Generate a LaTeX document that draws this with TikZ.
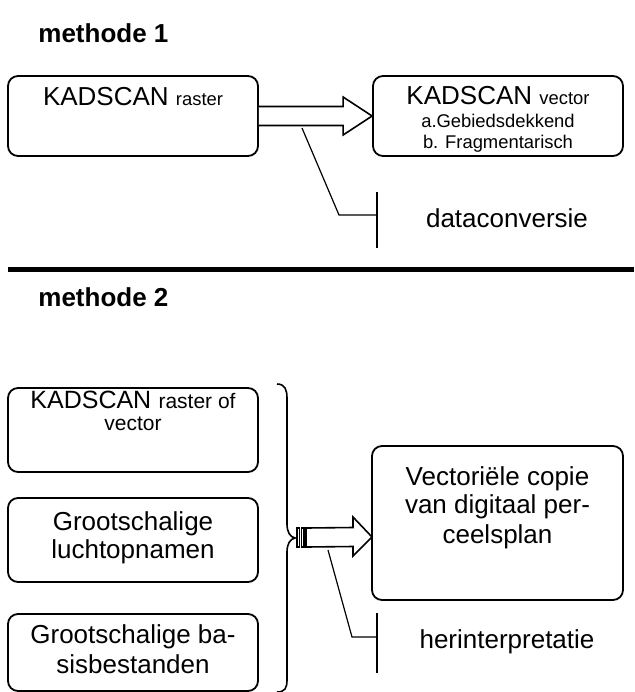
\documentclass[tikz,border=0pt]{standalone}
\usepackage{fontspec}
\setmainfont{Liberation Sans}
\usetikzlibrary{calc}
\newcommand{\groot}{\fontsize{13}{15}\selectfont}
\newcommand{\middel}{\fontsize{10.5}{12}\selectfont}
\newcommand{\klein}{\fontsize{9.2}{11}\selectfont}
\tikzset{
  vak/.style={draw,rounded corners=5pt,line width=0.9pt,inner sep=0pt,minimum width=125pt},
  regel/.style={anchor=base,inner sep=0pt,font=\groot},
  kop/.style={anchor=base west,inner sep=0pt,font=\groot\bfseries},
  pijl/.style={draw,line width=0.8pt,fill=white,line join=miter},
  lijn/.style={draw,line width=0.6pt}
}
\begin{document}
\begin{tikzpicture}[x=0.5pt,y=-0.5pt]
  \useasboundingbox (0,0) rectangle (634,692);
  % methode 1
  \node[kop] (kop1) at (38,42) {methode 1};
  \node[vak,minimum height=40pt] (r1) at (133,116) {};
  \node[vak,minimum height=40pt] (r2) at (498,116) {};
  \node[regel] (r1a) at (133,105) {KADSCAN {\klein raster}};
  \node[regel] (r2a) at (498,104) {KADSCAN {\klein vector}};
  \node[regel,font=\klein] (r2b) at (498,127) {a.Gebiedsdekkend};
  \node[regel,font=\klein] (r2c) at (498,148) {b. Fragmentarisch};
  \draw[pijl] ($(r1.east)+(0,-9.5)$) -- ($(r2.west)+(-29,-9.5)$) -- ($(r2.west)+(-29,-19)$)
    -- (r2.west) -- ($(r2.west)+(-29,19)$) -- ($(r2.west)+(-29,9.5)$) -- ($(r1.east)+(0,9.5)$);
  \coordinate (k1) at (377,215);
  \coordinate (s1) at (302,128);
  \draw[lijn] (s1) -- (339,215) -- (k1);
  \draw[lijn] ($(k1)+(0,-23)$) -- ($(k1)+(0,33)$);
  \node[regel] (dc) at (507,227) {dataconversie};
  % scheidingslijn
  \draw[line width=2.5pt] (8,269) -- (634,269);
  % methode 2
  \node[kop] (kop2) at (38,306) {methode 2};
  \node[vak,minimum height=42pt] (ra) at (133,430) {};
  \node[vak,minimum height=42pt] (rb) at (133,540) {};
  \node[vak,minimum height=38.5pt] (rc) at (133,652.5) {};
  \node[vak,minimum width=125.5pt,minimum height=77pt] (rd) at (497.5,523) {};
  \node[regel] (raa) at (133,408) {{\fontsize{12.5}{15}\selectfont KADSCAN} {\middel raster of}};
  \node[regel,font=\middel] (rab) at (133,430) {vector};
  \node[regel] (rba) at (133,530) {Grootschalige};
  \node[regel] (rbb) at (133,558) {luchtopnamen};
  \node[regel] (rca) at (133,643) {Grootschalige ba-};
  \node[regel] (rcb) at (133,673) {sisbestanden};
  \node[regel] (rda) at (497.5,485) {Vectoriële copie};
  \node[regel] (rdb) at (497.5,513) {van digitaal per-};
  \node[regel] (rdc) at (497.5,543) {ceelsplan};
  % accolade
  \draw[lijn,line width=0.8pt] (277,384) .. controls (285,384) and (287,390) .. (287,398)
    -- (287,524) .. controls (287,532) and (290,537) .. (295,538)
    .. controls (290,539) and (287,544) .. (287,552)
    -- (287,680) .. controls (287,688) and (285,692) .. (277,692);
  % gestreepte pijl
  \coordinate (p2) at (372,537);
  \draw[pijl] (297,528) rectangle (299.5,547);
  \draw[pijl] (301.5,528) rectangle (304,547);
  \draw[pijl] (306,528) -- ($(p2)+(-19,-9.5)$) -- ($(p2)+(-19,-20)$) -- (p2)
    -- ($(p2)+(-19,19)$) -- ($(p2)+(-19,9.5)$) -- (306,547) -- cycle;
  \coordinate (k2) at (377,637);
  \coordinate (s2) at (328,550);
  \draw[lijn] (s2) -- (352,637) -- (k2);
  \draw[lijn] ($(k2)+(0,-24)$) -- ($(k2)+(0,36)$);
  \node[regel] (hi) at (507,648) {herinterpretatie};
\end{tikzpicture}
\end{document}
